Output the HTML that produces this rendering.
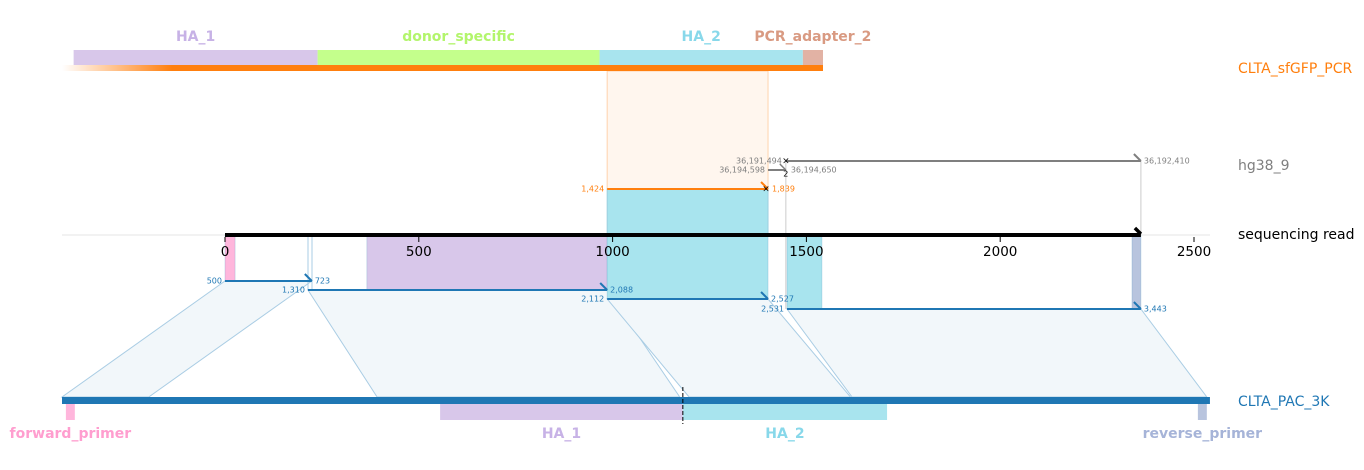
<!DOCTYPE html>
<html><head><meta charset="utf-8"><style>
body{margin:0;background:#fff;}
svg{display:block;font-family:"DejaVu Sans","Liberation Sans",sans-serif;}
</style></head><body>
<svg id="chart" width="1364" height="470" viewBox="0 0 1364 470" xmlns="http://www.w3.org/2000/svg">
<defs>
<linearGradient id="fade" x1="0" x2="1" y1="0" y2="0">
<stop offset="0" stop-color="#ff7f0e" stop-opacity="0"/>
<stop offset="1" stop-color="#ff7f0e" stop-opacity="1"/>
</linearGradient>
</defs>
</svg>
<script>
// ---- data ----
const readTicks = [0, 500, 1000, 1500, 2000, 2500];
const readLength = 2363;
const pcrFeatNames = ["HA_1", "donor_specific", "HA_2", "PCR_adapter_2"];
const pcrFeatStart = [30, 660, 1388, 1913];
const pcrFeatEnd = [660, 1388, 1913, 1965];
const pcrFeatColors = ["#d8c7ea", "#c4ff8c", "#a8e4ee", "#e2b2a4"];
const pcrFeatLabelColors = ["#c7b2e6", "#b3f56c", "#88d8ea", "#d99a82"];
const pcrLength = 1965;
const pcrAlnRead = [986, 1401];
const pcrAlnQuery = ["1,424", "1,839"];
const hgRead = [[1447, 2363], [1401, 1447]];
const hgStartLabels = ["36,191,494", "36,194,598"];
const hgEndLabels = ["36,192,410", "36,194,650"];
const tgtReadStart = [0, 214, 986, 1450];
const tgtReadEnd = [224, 986, 1401, 2363];
const tgtStart = [500, 1310, 2112, 2531];
const tgtEnd = [723, 2088, 2527, 3443];
const tgtLength = 3451;
const tgtFeatNames = ["forward_primer", "HA_1", "HA_2", "reverse_primer"];
const tgtFeatStart = [510, 1472, 2096, 3420];
const tgtFeatEnd = [533, 2096, 2621, 3443];
const tgtFeatColors = ["#ffb6dc", "#d8c7ea", "#a8e4ee", "#b8c4de"];
const tgtFeatLabelColors = ["#ff9ecf", "#c7b2e6", "#88d8ea", "#a6b4d8"];
const readFeatStart = [0, 366, 986, 1450, 2340];
const readFeatEnd = [26, 986, 1401, 1540, 2363];
const readFeatColors = ["#ffb6dc", "#d8c7ea", "#a8e4ee", "#a8e4ee", "#b8c4de"];
const readFeatBottom = [281, 290, 299, 309, 309];

// ---- scales ----
const rx = v => 225 + v * 0.3876;
const tx = v => 62 + (v - 500) * 0.389;
const px = v => 62 + v * (823 - 62) / pcrLength;

const svg = document.getElementById('chart');
const NS = "http://www.w3.org/2000/svg";
function mk(tag, attrs, parent) {
  const e = document.createElementNS(NS, tag);
  for (const k in attrs) e.setAttribute(k, attrs[k]);
  (parent || svg).appendChild(e);
  return e;
}
function txt(x, y, s, size, color, anchor, weight) {
  const t = mk('text', {x: x, y: y, 'font-size': size, fill: color, 'text-anchor': anchor || 'start', 'font-weight': weight || 'normal', 'dominant-baseline': 'middle'});
  t.textContent = s;
  return t;
}
const READY = 235, TGTY = 400;

let e = mk('line', {x1: 62, x2: 1210, y1: READY, y2: READY, stroke: '#e6e6e6', 'stroke-width': 1});



for (let i = 0; i < tgtStart.length; i++) {
  const y0 = [281, 290, 299, 309][i];
  const pts = `${rx(tgtReadStart[i])},${y0} ${rx(tgtReadEnd[i])},${y0} ${tx(tgtEnd[i])},${TGTY - 3} ${tx(tgtStart[i])},${TGTY - 3}`;
  e = mk('polygon', {points: pts, fill: '#f2f7fa', stroke: '#aacde4', 'stroke-width': 1});
  
  
}

e = mk('rect', {x: rx(pcrAlnRead[0]), y: 71, width: rx(pcrAlnRead[1]) - rx(pcrAlnRead[0]), height: 189 - 71, fill: '#fff6ee', stroke: '#ffd3ad', 'stroke-width': 1});


e = mk('rect', {x: rx(pcrAlnRead[0]), y: 189, width: rx(pcrAlnRead[1]) - rx(pcrAlnRead[0]), height: READY - 189, fill: '#a8e4ee', stroke: '#9dcfe0', 'stroke-width': 1});



for (let i = 0; i < readFeatStart.length; i++) {
  e = mk('rect', {x: rx(readFeatStart[i]), y: READY, width: rx(readFeatEnd[i]) - rx(readFeatStart[i]), height: readFeatBottom[i] - READY, fill: readFeatColors[i], stroke: 'rgba(100,160,200,0.35)', 'stroke-width': 0.8});
  
  
}
[308, 312].forEach(x => {
  const l = mk('line', {x1: x, x2: x, y1: READY, y2: 290, stroke: '#aacde4', 'stroke-width': 1});
  
  
});
e = mk('line', {x1: rx(hgRead[0][0]), x2: rx(hgRead[0][0]), y1: 161, y2: 309, stroke: '#cccccc', 'stroke-width': 1});


e = mk('line', {x1: rx(hgRead[0][1]), x2: rx(hgRead[0][1]), y1: 161, y2: READY, stroke: '#cccccc', 'stroke-width': 1});



for (let i = 0; i < tgtStart.length; i++) {
  const y0 = [281, 290, 299, 309][i];
  const x1 = rx(tgtReadStart[i]), x2 = rx(tgtReadEnd[i]);
  e = mk('line', {x1: x1, x2: x2, y1: y0, y2: y0, stroke: '#1f77b4', 'stroke-width': 2});
  
  
  mk('path', {d: `M${x2 - 7},${y0 - 7} L${x2},${y0}`, stroke: '#1f77b4', 'stroke-width': 2, fill: 'none'});
  txt(x1 - 3, y0, tgtStart[i].toLocaleString('en-US'), 8, '#1f77b4', 'end');
  txt(x2 + 3, y0, tgtEnd[i].toLocaleString('en-US'), 8, '#1f77b4', 'start');
}

{
  const x1 = rx(pcrAlnRead[0]), x2 = rx(pcrAlnRead[1]);
  e = mk('line', {x1: x1, x2: x2, y1: 189, y2: 189, stroke: '#ff7f0e', 'stroke-width': 2});
  
  
  mk('path', {d: `M${x2 - 7},182 L${x2},189`, stroke: '#ff7f0e', 'stroke-width': 2, fill: 'none'});
  txt(x2 - 2, 189, '×', 9, '#000', 'middle');
  txt(x1 - 3, 189, pcrAlnQuery[0], 8, '#ff7f0e', 'end');
  txt(x2 + 4, 189, pcrAlnQuery[1], 8, '#ff7f0e', 'start');
}

{
  const ys = [161, 170];
  for (let i = 0; i < hgRead.length; i++) {
    const x1 = rx(hgRead[i][0]), x2 = rx(hgRead[i][1]);
    e = mk('line', {x1: x1, x2: x2, y1: ys[i], y2: ys[i], stroke: '#7f7f7f', 'stroke-width': 2});
    
    
  }
  const a = rx(hgRead[0][0]), b = rx(hgRead[0][1]);
  mk('path', {d: `M${b - 7},154 L${b},161`, stroke: '#7f7f7f', 'stroke-width': 2, fill: 'none'});
  mk('path', {d: `M${a - 6},164 L${a},170`, stroke: '#7f7f7f', 'stroke-width': 1.5, fill: 'none'});
  txt(a, 161, '×', 9, '#000', 'middle');
  txt(a - 4, 161, hgStartLabels[0], 8, '#7f7f7f', 'end');
  txt(b + 3, 161, hgEndLabels[0], 8, '#7f7f7f', 'start');
  const c = rx(hgRead[1][0]);
  txt(c - 3, 170, hgStartLabels[1], 8, '#7f7f7f', 'end');
  txt(a + 5, 170, hgEndLabels[1], 8, '#7f7f7f', 'start');
  txt(a, 174, '2', 8, '#000', 'middle');
}

e = mk('line', {x1: rx(0), x2: rx(readLength), y1: READY, y2: READY, stroke: '#000', 'stroke-width': 4});


mk('path', {d: `M${rx(readLength) - 6},228 L${rx(readLength)},234`, stroke: '#000', 'stroke-width': 3.5, fill: 'none'});
readTicks.forEach(t => {
  e = mk('line', {x1: rx(t), x2: rx(t), y1: READY + 2, y2: READY + 7, stroke: '#000', 'stroke-width': 1});
  
  
  e = txt(rx(t), 252, String(t), 13.5, '#000', 'middle');
  
  
});

e = mk('rect', {x: px(0), y: 65, width: px(pcrLength) - px(0), height: 6, fill: '#ff7f0e'});


mk('rect', {x: px(0), y: 65, width: 110, height: 6, fill: '#fff'});
mk('rect', {x: px(0), y: 65, width: 110, height: 6, fill: 'url(#fade)'});
for (let i = 0; i < pcrFeatNames.length; i++) {
  const x1 = px(pcrFeatStart[i]), x2 = px(pcrFeatEnd[i]);
  e = mk('rect', {x: x1, y: 50, width: x2 - x1, height: 15, fill: pcrFeatColors[i]});
  
  
  const lx = i === 3 ? x1 + 10 : (x1 + x2) / 2;
  e = txt(lx, 37, pcrFeatNames[i], 14, pcrFeatLabelColors[i], 'middle', 'bold');
  
  
}

e = mk('rect', {x: tx(500), y: TGTY - 3, width: tx(tgtLength) - tx(500), height: 7, fill: '#1f77b4'});


for (let i = 0; i < tgtFeatNames.length; i++) {
  const x1 = tx(tgtFeatStart[i]), x2 = tx(tgtFeatEnd[i]);
  e = mk('rect', {x: x1, y: TGTY + 4, width: x2 - x1, height: 16, fill: tgtFeatColors[i]});
  
  
  e = txt((x1 + x2) / 2, 434, tgtFeatNames[i], 14, tgtFeatLabelColors[i], 'middle', 'bold');
  
  
}
e = mk('line', {x1: tx(2096), x2: tx(2096), y1: 387, y2: 424, stroke: '#000', 'stroke-width': 1, 'stroke-dasharray': '4,2'});



const rl = [["CLTA_sfGFP_PCR", 69, '#ff7f0e'], ["hg38_9", 166, '#7f7f7f'], ["sequencing read", 235, '#000'], ["CLTA_PAC_3K", 402, '#1f77b4']];
rl.forEach(r => {
  e = txt(1238, r[1], r[0], 14, r[2], 'start');
  
  
});
</script>
</body></html>
